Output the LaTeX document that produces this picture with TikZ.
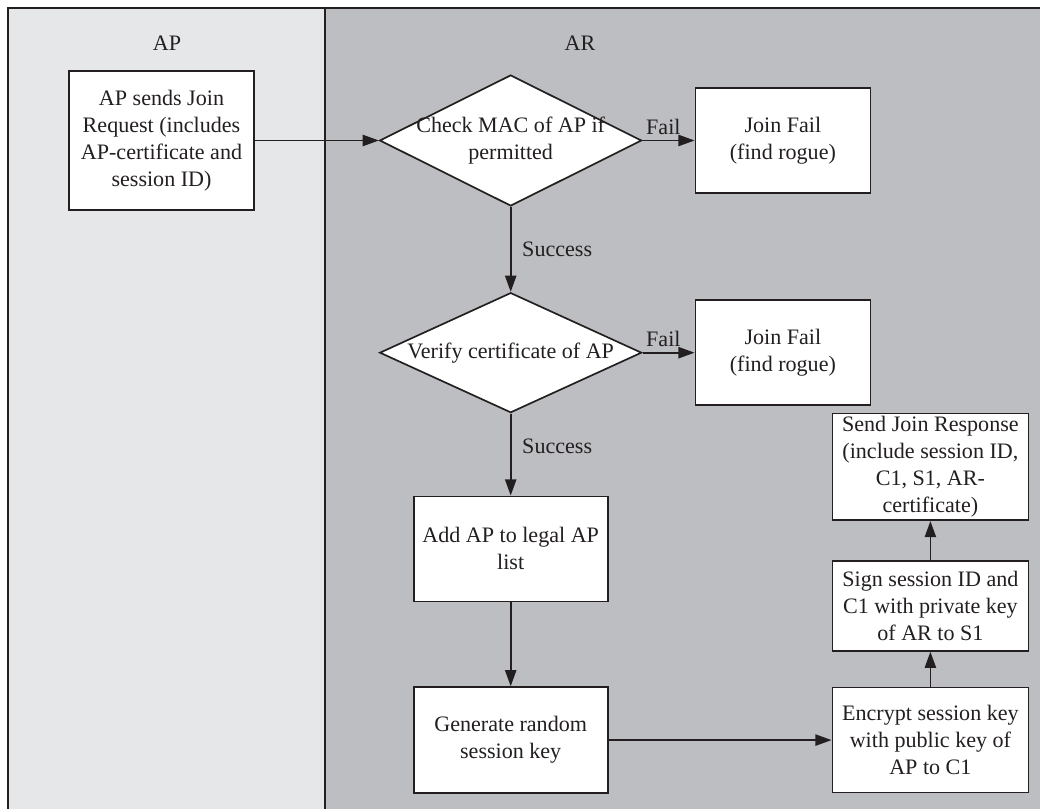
\documentclass[tikz,border=0pt]{standalone}
\usepackage{fontspec}
\setmainfont{Liberation Serif}
\usetikzlibrary{positioning,shapes.geometric,arrows.meta}
\definecolor{aplane}{HTML}{E6E7E9}
\definecolor{arlane}{HTML}{BDBEC2}
\definecolor{ink}{HTML}{231F20}
% text that may run past the diamond's edges
\newcommand{\widetext}[1]{\makebox[0pt]{\begin{tabular}{@{}c@{}}#1\end{tabular}}}
\tikzset{
  % plain step box
  proc/.style  = {rectangle, draw=ink, line width=1.2pt, fill=white, text=ink,
                  align=center, inner sep=2pt, font=\fontsize{15.7}{19.2}\selectfont},
  % check diamond
  dec/.style   = {diamond, draw=ink, line width=1.2pt, fill=white, text=ink,
                  inner sep=0pt, minimum width=65.5mm, font=\fontsize{15.7}{19.2}\selectfont},
  % lane title and edge labels
  tag/.style   = {text=ink, font=\fontsize{15.7}{19.2}\selectfont},
  % arrows
  flow/.style  = {-{Triangle[length=11.5pt,width=8pt]}, line width=1.2pt, ink},
}
\begin{document}
\begin{tikzpicture}[x=0.25mm, y=-0.25mm]
  \useasboundingbox (0,0) rectangle (1040,809);

  % swim lanes
  \fill[aplane] (8,8) rectangle (325,809);
  \fill[arlane] (325,8) rectangle (1040,809);
  \draw[ink, line width=1.2pt] (8,809) -- (8,8) -- (1040,8);
  \draw[ink, line width=1.2pt] (325,8) -- (325,809);
  \node[tag] (aptitle) at (167,43) {AP};
  \node[tag] (artitle) at (580,43) {AR};

  \node[proc, minimum width=46.25mm, minimum height=34.75mm] (apreq) at (161.5,140.5)
       {AP sends Join\\Request (includes\\AP-certificate and\\session ID)};

  \node[dec, minimum height=32.75mm, right=31mm of apreq] (chkmac)
       {\widetext{Check MAC of AP if\\permitted}};

  \node[proc, minimum width=43.75mm, minimum height=26.25mm, right=13mm of chkmac] (fail0)
       {Join Fail\\(find rogue)};

  \node[dec, minimum height=30mm, below=21.25mm of chkmac] (chkcert)
       {\widetext{Verify certificate of AP}};

  \node[proc, minimum width=43.75mm, minimum height=26.25mm, right=13mm of chkcert] (fail1)
       {Join Fail\\(find rogue)};

  \node[proc, minimum width=48.5mm, minimum height=26.25mm, below=20.5mm of chkcert] (addap)
       {Add AP to legal AP\\list};

  \node[proc, minimum width=48.5mm, minimum height=26.5mm, below=21mm of addap] (genkey)
       {Generate random\\session key};

  % key handling column
  \node[proc, minimum width=49mm, minimum height=26.25mm, right=55.75mm of genkey] (encrkey)
       {Encrypt session key\\with public key of\\AP to C1};
  \node[proc, minimum width=49mm, minimum height=22.5mm, above=8.75mm of encrkey] (signkey)
       {Sign session ID and\\C1 with private key\\of AR to S1};
  \node[proc, minimum width=49mm, minimum height=26.25mm, above=9.75mm of signkey] (joinresp)
       {Send Join Response\\(include session ID,\\C1, S1, AR-\\certificate)};

  % --- edges ---
  \draw[flow] (apreq) -- (chkmac);
  \draw[flow] (chkmac) -- node[tag, above, pos=0.4]{Fail} (fail0);
  \draw[flow] (chkmac) -- node[tag, right, xshift=1.5mm]{Success} (chkcert);
  \draw[flow] (chkcert) -- node[tag, above, pos=0.4]{Fail} (fail1);
  \draw[flow] (chkcert) -- node[tag, right, pos=0.4, xshift=1.5mm]{Success} (addap);
  \draw[flow] (addap) -- (genkey);
  \draw[flow] (genkey) -- (encrkey);
  \draw[flow] (encrkey) -- (signkey);
  \draw[flow] (signkey) -- (joinresp);

\end{tikzpicture}
\end{document}
